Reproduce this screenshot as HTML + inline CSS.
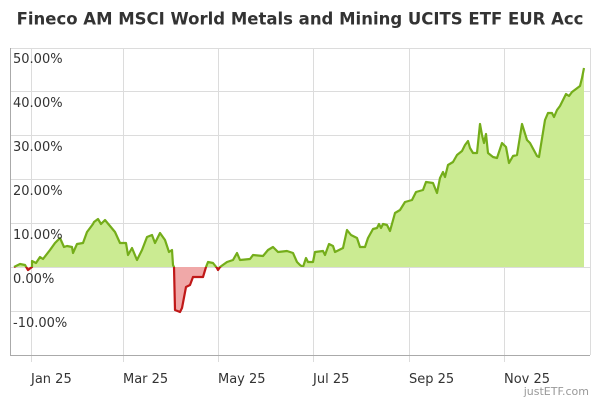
<!DOCTYPE html>
<html><head><meta charset="utf-8"><style>
body{margin:0;background:#fff;width:600px;height:400px;overflow:hidden}
svg{display:block;font-family:"DejaVu Sans","Liberation Sans",sans-serif}
</style></head><body>
<svg width="600" height="400" viewBox="0 0 600 400">
<defs>
<clipPath id="up"><rect x="0" y="0" width="600" height="267"/></clipPath>
<clipPath id="dn"><rect x="0" y="267" width="600" height="133"/></clipPath>
</defs>
<text x="300" y="24.5" text-anchor="middle" font-size="16.5" font-weight="bold" fill="#333">Fineco AM MSCI World Metals and Mining UCITS ETF EUR Acc</text>
<g stroke="#dcdcdc" stroke-width="1">
<line x1="10" y1="48.5" x2="590" y2="48.5"/><line x1="10" y1="91.5" x2="590" y2="91.5"/>
<line x1="10" y1="135.5" x2="590" y2="135.5"/><line x1="10" y1="179.5" x2="590" y2="179.5"/>
<line x1="10" y1="223.5" x2="590" y2="223.5"/><line x1="10" y1="267.5" x2="590" y2="267.5"/>
<line x1="10" y1="311.5" x2="590" y2="311.5"/>
<line x1="31.5" y1="48" x2="31.5" y2="362"/><line x1="123.5" y1="48" x2="123.5" y2="362"/>
<line x1="218.5" y1="48" x2="218.5" y2="362"/><line x1="313.5" y1="48" x2="313.5" y2="362"/>
<line x1="409.5" y1="48" x2="409.5" y2="362"/><line x1="504.5" y1="48" x2="504.5" y2="362"/>
<line x1="590.5" y1="48" x2="590.5" y2="355"/>
</g>
<g stroke="#aaa" stroke-width="1"><line x1="10.5" y1="48" x2="10.5" y2="355"/><line x1="10" y1="355.5" x2="590" y2="355.5"/></g>
<g clip-path="url(#up)">
<polygon fill="#cbeb92" points="14,267 14,267 20,264 25,265 28,270 32,267 32,261 36,263 40,257 43,259 50,250 55,243 60,238 64,247 67,246 72,247 73,253 77,244 83,243 87,232 93,224 94,222 98,219 101,224 105,220 110,226 115,232 120,243 126,243 128,255 132,248 137,260 142,250 147,237 152,235 155,243 160,233 165,240 169,252 172,250 173,265 174,267 175,310 180,312 182,308 186,287 190,285 193,277 203,277 206,267 208,262 213,263 217,268 218,270 220,267 227,262 233,260 237,253 240,260 250,259 253,255 263,256 268,250 273,247 278,252 287,251 293,253 297,262 300,265 303,267 306,258 308,262 313,262 315,252 323,251 325,255 329,244 333,246 335,252 343,248 347,230 351,235 357,238 360,247 365,247 368,238 373,229 377,228 379,224 381,228 383,224 387,225 390,231 395,213 400,210 405,202 412,200 416,192 423,190 426,182 433,183 437,193 440,178 443,172 445,177 448,165 453,162 457,155 462,151 465,145 468,141 470,148 473,153 477,153 480,124 482,135 484,143 486,134 488,153 493,157 497,158 502,143 506,147 509,163 513,156 517,155 522,124 527,140 530,143 537,156 539,157 545,120 548,113 552,113 554,117 557,110 560,106 563,100 566,94 569,96 572,92 576,89 580,86 582,78 584,68 584,267"/>
<polyline fill="none" stroke="#74ad1a" stroke-width="2.2" stroke-linejoin="round" points="14,267 20,264 25,265 28,270 32,267 32,261 36,263 40,257 43,259 50,250 55,243 60,238 64,247 67,246 72,247 73,253 77,244 83,243 87,232 93,224 94,222 98,219 101,224 105,220 110,226 115,232 120,243 126,243 128,255 132,248 137,260 142,250 147,237 152,235 155,243 160,233 165,240 169,252 172,250 173,265 174,267 175,310 180,312 182,308 186,287 190,285 193,277 203,277 206,267 208,262 213,263 217,268 218,270 220,267 227,262 233,260 237,253 240,260 250,259 253,255 263,256 268,250 273,247 278,252 287,251 293,253 297,262 300,265 303,267 306,258 308,262 313,262 315,252 323,251 325,255 329,244 333,246 335,252 343,248 347,230 351,235 357,238 360,247 365,247 368,238 373,229 377,228 379,224 381,228 383,224 387,225 390,231 395,213 400,210 405,202 412,200 416,192 423,190 426,182 433,183 437,193 440,178 443,172 445,177 448,165 453,162 457,155 462,151 465,145 468,141 470,148 473,153 477,153 480,124 482,135 484,143 486,134 488,153 493,157 497,158 502,143 506,147 509,163 513,156 517,155 522,124 527,140 530,143 537,156 539,157 545,120 548,113 552,113 554,117 557,110 560,106 563,100 566,94 569,96 572,92 576,89 580,86 582,78 584,68"/>
</g>
<g clip-path="url(#dn)">
<polygon fill="#f0a8a8" points="14,267 14,267 20,264 25,265 28,270 32,267 32,261 36,263 40,257 43,259 50,250 55,243 60,238 64,247 67,246 72,247 73,253 77,244 83,243 87,232 93,224 94,222 98,219 101,224 105,220 110,226 115,232 120,243 126,243 128,255 132,248 137,260 142,250 147,237 152,235 155,243 160,233 165,240 169,252 172,250 173,265 174,267 175,310 180,312 182,308 186,287 190,285 193,277 203,277 206,267 208,262 213,263 217,268 218,270 220,267 227,262 233,260 584,267"/>
<polyline fill="none" stroke="#c01818" stroke-width="2.2" stroke-linejoin="round" points="14,267 20,264 25,265 28,270 32,267 32,261 36,263 40,257 43,259 50,250 55,243 60,238 64,247 67,246 72,247 73,253 77,244 83,243 87,232 93,224 94,222 98,219 101,224 105,220 110,226 115,232 120,243 126,243 128,255 132,248 137,260 142,250 147,237 152,235 155,243 160,233 165,240 169,252 172,250 173,265 174,267 175,310 180,312 182,308 186,287 190,285 193,277 203,277 206,267 208,262 213,263 217,268 218,270 220,267 227,262"/>
</g>
<g font-size="13" fill="#333">
<text x="13" y="63">50.00%</text><text x="13" y="107">40.00%</text><text x="13" y="151">30.00%</text>
<text x="13" y="195">20.00%</text><text x="13" y="239">10.00%</text><text x="13" y="283">0.00%</text>
<text x="13" y="327">-10.00%</text>
<text x="31" y="383">Jan 25</text><text x="123" y="383">Mar 25</text><text x="218" y="383">May 25</text>
<text x="313" y="383">Jul 25</text><text x="409" y="383">Sep 25</text><text x="504" y="383">Nov 25</text>
</g>
<text x="589" y="395" text-anchor="end" font-size="11" fill="#999">justETF.com</text>
</svg>
</body></html>
